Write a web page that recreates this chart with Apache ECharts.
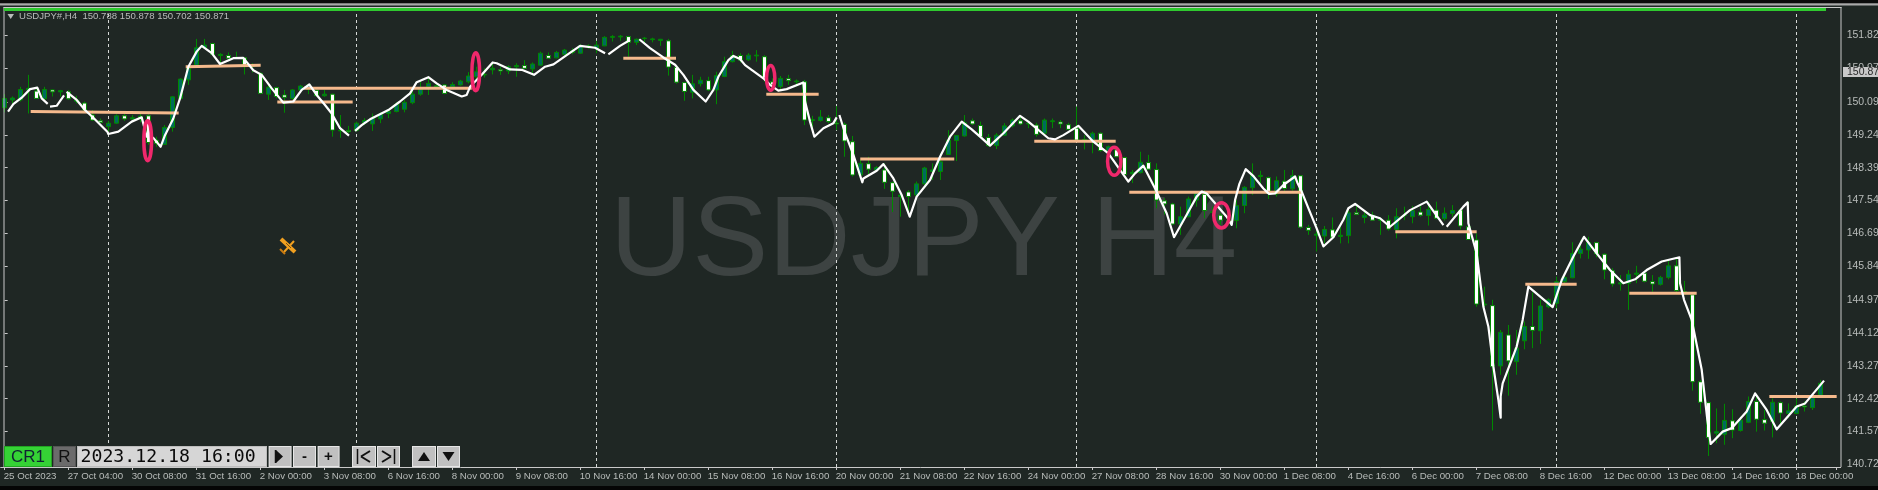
<!DOCTYPE html>
<html><head><meta charset="utf-8">
<style>html,body{margin:0;padding:0;background:#1f2724;overflow:hidden}#c{width:1878px;height:490px}</style>
<script src="https://cdn.jsdelivr.net/npm/echarts@6/dist/echarts.min.js"></script>
</head><body><div id="c"></div>
<script>
const tickLabels = ["25 Oct 2023","27 Oct 04:00","30 Oct 08:00","31 Oct 16:00","2 Nov 00:00","3 Nov 08:00","6 Nov 16:00","8 Nov 00:00","9 Nov 08:00","10 Nov 16:00","14 Nov 00:00","15 Nov 08:00","16 Nov 16:00","20 Nov 00:00","21 Nov 08:00","22 Nov 16:00","24 Nov 00:00","27 Nov 08:00","28 Nov 16:00","30 Nov 00:00","1 Dec 08:00","4 Dec 16:00","6 Dec 00:00","7 Dec 08:00","8 Dec 16:00","12 Dec 00:00","13 Dec 08:00","14 Dec 16:00","18 Dec 00:00"];
const priceTicks = [140.723,141.573,142.423,143.273,144.123,144.973,145.848,146.698,147.548,148.398,149.248,150.098,150.973,151.823];
const weekSeparators = [13,44,74,104,134,164,194,224];
const currentPrice = 150.871;
const headerText = "USDJPY#,H4  150.788 150.878 150.702 150.871";
// [open, close, low, high]
const candles = [
[149.95,150.19,149.83,150.30],[150.15,150.20,150.06,150.24],[150.15,150.42,150.11,150.49],[150.41,150.45,149.80,150.80],[150.38,150.19,150.18,150.49],[150.18,150.42,150.15,150.49],[150.41,150.36,150.24,150.42],[150.36,150.39,150.24,150.41],
[150.36,150.18,150.15,150.41],[150.12,150.15,150.06,150.26],[150.07,149.89,149.86,150.11],[149.76,149.63,149.61,149.89],[149.61,149.57,149.55,149.67],[149.46,149.55,149.33,149.61],[149.55,149.74,149.53,149.78],[149.74,149.66,149.61,149.80],
[149.66,149.69,149.61,149.76],[149.67,149.73,149.57,149.80],[149.74,149.05,148.99,149.78],[149.11,149.03,148.94,149.20],[149.00,149.44,148.99,149.50],[149.44,150.23,149.33,150.25],[150.19,150.69,150.15,150.71],[150.67,150.97,150.54,151.01],
[151.05,151.50,151.04,151.73],[151.50,151.57,151.49,151.73],[151.61,151.33,151.31,151.63],[151.30,151.33,151.10,151.36],[151.30,151.23,151.21,151.38],[151.23,151.24,151.21,151.40],[151.24,151.05,150.81,151.26],[151.01,151.05,150.86,151.10],
[150.84,150.32,150.30,150.86],[150.30,150.48,150.15,150.54],[150.47,150.24,150.19,150.49],[150.28,150.22,149.82,150.41],[150.19,150.41,150.15,150.43],[150.41,150.51,150.37,150.54],[150.43,150.54,150.30,150.55],[150.40,150.26,150.24,150.43],
[150.26,150.30,150.23,150.41],[150.30,149.37,149.20,150.31],[149.35,149.36,149.17,149.76],[149.36,149.33,149.29,149.48],[149.36,149.55,149.33,149.59],[149.56,149.62,149.50,149.68],[149.53,149.68,149.35,149.80],[149.66,149.78,149.55,149.83],
[149.80,149.85,149.68,149.92],[149.85,150.04,149.83,150.09],[149.91,150.09,149.83,150.15],[150.08,150.30,150.04,150.41],[150.30,150.43,150.26,150.65],[150.49,150.58,150.28,150.75],[150.49,150.52,150.43,150.58],[150.54,150.32,150.30,150.55],
[150.49,150.55,150.45,150.61],[150.54,150.64,150.52,150.67],[150.62,150.77,150.58,150.87],[150.75,150.88,150.67,151.01],[150.80,150.81,150.73,150.97],[150.93,150.97,150.81,151.10],[150.93,150.90,150.80,151.01],[150.90,151.01,150.82,151.05],
[151.01,151.04,150.75,151.10],[151.04,150.97,150.95,151.18],[150.95,151.08,150.84,151.12],[151.05,151.36,151.04,151.40],[151.30,151.23,151.21,151.38],[151.24,151.38,151.23,151.42],[151.33,151.44,151.30,151.47],[151.38,151.42,151.33,151.49],
[151.36,151.55,151.34,151.59],[151.52,151.55,151.47,151.59],[151.49,151.57,151.36,151.68],[151.55,151.77,151.54,151.80],[151.77,151.79,151.66,151.83],[151.78,151.80,151.68,151.83],[151.79,151.64,151.27,151.81],[151.64,151.72,151.57,151.74],
[151.74,151.75,151.61,151.78],[151.71,151.73,151.64,151.76],[151.69,151.72,151.55,151.73],[151.68,151.00,150.78,151.73],[150.99,150.61,150.57,151.04],[150.60,150.37,150.13,150.62],[150.35,150.57,150.19,150.80],[150.57,150.66,150.50,150.75],
[150.65,150.41,150.38,150.75],[150.41,150.78,150.04,150.88],[150.76,151.14,150.74,151.27],[151.14,151.30,151.12,151.42],[151.30,151.18,151.12,151.36],[151.19,151.31,151.16,151.36],[151.29,151.31,151.14,151.44],[151.27,150.71,150.62,151.31],
[150.62,150.54,150.50,150.71],[150.50,150.71,150.41,150.77],[150.70,150.65,150.54,150.80],[150.62,150.64,150.50,150.68],[150.62,149.63,149.50,150.67],[149.62,149.64,149.33,149.74],[149.62,149.71,149.59,149.89],[149.69,149.59,149.55,149.76],
[149.55,149.53,149.37,149.99],[149.52,149.09,148.68,149.57],[149.07,148.21,148.17,149.22],[148.21,148.51,148.18,148.60],[148.50,148.36,148.23,148.68],[148.34,148.40,148.30,148.44],[148.34,148.02,147.85,148.51],[148.01,147.79,147.25,148.04],
[147.65,147.69,147.13,147.80],[147.77,147.65,147.22,147.82],[147.69,147.98,147.56,148.04],[147.98,148.39,147.95,148.42],[148.30,148.34,148.08,148.51],[148.30,148.55,148.08,148.77],[148.74,149.11,148.73,149.37],[149.10,149.23,148.57,149.24],
[149.22,149.56,149.20,149.76],[149.61,149.53,149.50,149.67],[149.49,149.20,149.18,149.59],[149.18,148.97,148.94,149.27],[148.97,149.24,148.88,149.29],[149.24,149.48,149.22,149.55],[149.48,149.63,149.44,149.67],[149.61,149.53,149.50,149.74],
[149.53,149.55,149.42,149.61],[149.50,149.26,149.20,149.56],[149.29,149.63,149.27,149.67],[149.59,149.61,149.42,149.67],[149.58,149.53,149.42,149.63],[149.51,149.39,149.37,149.56],[149.42,149.11,149.10,149.98],[149.11,149.13,148.87,149.24],
[149.07,149.29,148.77,149.33],[149.29,148.84,148.81,149.31],[148.81,148.94,148.64,148.97],[148.86,148.68,148.67,148.90],[148.66,148.22,148.18,148.68],[148.24,148.28,148.00,148.34],[148.27,148.54,148.25,148.81],[148.53,148.36,148.34,148.73],
[148.35,147.56,147.35,148.51],[147.54,147.46,147.18,147.61],[147.46,146.94,146.92,147.49],[146.94,147.13,146.66,147.39],[147.13,147.59,147.11,147.65],[147.56,147.74,147.39,147.78],[147.71,147.29,147.09,147.82],[147.24,147.26,147.17,147.39],
[147.17,147.04,146.92,147.22],[146.96,147.04,146.92,147.13],[147.03,147.42,146.83,147.56],[147.42,147.89,147.22,147.92],[147.88,148.19,147.69,148.51],[148.17,148.20,147.95,148.32],[148.14,147.73,147.59,148.17],[147.72,148.06,147.65,148.17],
[148.05,147.86,147.80,148.34],[147.85,148.19,147.80,148.34],[148.19,146.86,146.82,148.21],[146.85,146.78,146.66,146.92],[146.65,146.68,146.23,146.92],[146.63,146.80,146.44,146.89],[146.79,146.60,146.59,147.11],[146.62,146.65,146.44,146.87],
[146.64,147.23,146.44,147.30],[147.23,147.19,147.17,147.43],[147.11,147.17,146.96,147.26],[147.17,147.04,147.03,147.26],[147.04,147.06,146.66,147.07],[147.04,146.81,146.77,147.17],[146.80,147.13,146.57,147.35],[147.16,147.17,147.04,147.39],
[147.13,147.29,146.96,147.41],[147.25,147.17,147.13,147.43],[147.16,147.32,146.90,147.52],[147.30,147.09,147.06,147.52],[147.08,147.22,147.03,147.37],[147.21,147.29,147.13,147.43],[147.30,146.89,146.80,147.35],[146.87,146.54,146.53,147.52],
[146.53,144.87,144.80,146.70],[144.85,144.87,144.80,145.32],[144.83,143.25,141.60,144.98],[143.27,144.14,143.04,144.20],[144.07,143.40,142.50,144.33],[143.38,143.73,143.04,144.20],[143.92,144.29,143.70,144.42],[144.29,144.19,143.73,145.17],
[144.18,144.82,143.84,144.98],[144.80,144.98,144.76,145.02],[144.89,145.45,144.76,145.58],[145.45,145.56,145.41,145.62],[145.55,146.18,145.54,146.47],[146.18,146.29,146.05,146.53],[146.27,146.46,146.04,146.61],[146.46,146.17,146.08,146.48],
[146.16,145.75,145.51,146.18],[145.73,145.39,145.32,145.80],[145.39,145.42,145.22,145.62],[145.41,145.64,144.72,145.75],[145.64,145.67,145.41,145.86],[145.67,145.46,145.43,145.71],[145.45,145.39,145.19,145.62],[145.38,145.56,145.35,145.60],
[145.56,145.86,145.51,145.99],[145.86,145.22,145.18,146.08],[145.19,145.13,145.11,145.47],[145.11,142.86,142.63,145.15],[142.86,142.33,142.03,142.91],[142.32,141.42,140.94,142.35],[141.53,141.57,141.27,142.17],[141.50,141.86,141.23,142.29],
[141.85,141.61,141.40,142.15],[141.60,141.87,141.57,141.96],[141.81,142.35,141.79,142.48],[142.35,141.89,141.57,142.48],[141.88,141.79,141.60,142.13],[141.83,142.33,141.42,142.43],[142.32,142.05,141.74,142.35],[142.04,142.11,141.92,142.30],
[142.04,142.23,142.02,142.43],[142.23,142.21,142.09,142.35],[142.19,142.47,142.13,142.52],[142.51,142.82,142.47,142.91]
];
// hand-drawn white line: [candle position, price]; null = pen lifted
const whiteLine = [
[.42,149.85],[1.08,150.04],[2.13,150.21],[3.17,150.43],[4.08,150.47],[4.63,150.19],[5.38,150.05],null,
[5.67,149.98],[6.5,150.00],[7.42,150.27],null,
[7.75,150.36],[9,150.15],[10.04,149.89],[11.08,149.69],[12.83,149.33],[12.96,149.27],[14.21,149.33],[15.88,149.59],[17.13,149.70],[17.75,149.20],[18.58,149.17],[19.5,148.94],[20.04,149.24],[21.08,149.67],[21.92,150.19],[22.96,151.01],[24,151.40],[24.63,151.55],[25.88,151.36],[26.92,151.08],[28.58,151.23],[29.83,151.24],[31.08,150.92],[32.13,150.80],[33.38,150.45],[34.83,150.08],[36.08,150.11],[37.13,150.41],[38.08,150.55],[39,150.28],[40.04,150.02],[40.88,149.80],[41.92,149.42],[43.04,149.23],null,
[43.8,149.35],[44.63,149.50],[45.67,149.65],[47.96,149.89],[49.42,150.11],[50.67,150.32],[51.5,150.61],[52.96,150.74],[54,150.58],[55.25,150.41],[57.13,150.24],[57.75,150.28],[58.17,150.49],[59.63,150.80],[61,151.12],[61.5,151.10],[63.17,150.94],[64.63,150.93],[66.17,150.80],[67.55,151.01],[68.6,151.07],[70.25,151.31],[71.92,151.55],[73.8,151.50],[75.05,151.36],null,
[75.46,151.33],[76.92,151.55],[78.17,151.70],null,
[79.33,151.72],[80.67,151.49],[82.33,151.25],[83.8,151.06],[84.84,150.80],[86.09,150.41],[87.63,150.11],[88.59,150.41],[89.21,150.75],[90.46,151.18],[91.09,151.29],[91.92,151.21],[92.55,151.05],[94.84,150.71],[95.67,150.54],[96.71,150.39],[97.75,150.43],[99.84,150.60],[100.05,150.11],[100.67,149.59],[101.21,149.20],[102.34,149.42],[103.59,149.55],[104,149.70],null,
[104.34,149.76],[105.05,149.29],[106.09,148.73],[107.21,148.02],[107.34,148.12],[109,148.32],[109.84,148.49],[111.09,148.12],[112.13,147.69],[113.13,147.13],[114,147.65],[115.67,148.08],[116.92,148.68],[118.17,149.20],[119.63,149.59],[120.88,149.39],[121.92,149.20],[123.17,148.97],[124.84,149.29],[126.92,149.74],[127.96,149.59],[130.46,149.16],[131.3,149.13],[132.34,149.24],[134.21,149.48],[136.09,149.07],[137.96,148.77],[139.42,148.34],[140.46,148.04],[141.3,148.25],[142.34,148.45],[143.8,147.86],[145.25,147.22],[146.17,146.60],[147.75,147.18],[149,147.65],[149.63,147.78],[150.25,147.73],[151.3,147.48],[152.75,147.13],[153.38,146.92],[153.8,147.56],[154.34,147.98],[155.13,148.36],[156.09,148.18],[157.34,147.86],[158.05,147.72],[158.8,147.73],[159.84,147.95],[161.3,148.17],[161.59,148.01],[162.13,147.78],[162.96,147.35],[164,146.83],[164.84,146.36],[166.09,146.60],[167.34,147.05],[167.96,147.35],[168.8,147.46],[170.67,147.17],[171.92,147.09],[173.17,146.87],[175.67,147.30],[177.75,147.52],[179.84,146.91],null,
[180.25,146.87],[182.34,147.39],[182.88,147.50],[182.96,146.96],[184,146.18],[184.84,144.80],[185.46,144.29],[186.09,143.25],[186.71,142.39],[187,141.93],[187,142.48],[187.25,142.82],[189,143.77],[189.75,144.46],[190.46,145.32],[193.5,144.79],[194.63,145.49],[196.09,146.10],[197.42,146.61],[199,146.18],[200.67,145.75],[202.34,145.41],[203.8,145.51],[205.25,145.75],[207.13,145.97],[209.34,146.08],[209.42,145.41],[209.92,144.98],[210.88,144.46],[211.3,144.03],[212.13,143.17],[212.84,141.87],[213.25,141.25],[214.75,141.57],[215.88,141.66],[217.75,142.09],[218.8,142.56],[220.25,142.13],[221.5,141.63],[224,142.22],[225.05,142.30],[227.42,142.89]
];
// orange levels: [from, price, to, price]
const levels = [
[3.25,149.85,21.75,149.81],[22.63,151.01,32,151.05],[34.08,150.10,43.5,150.10],[37.42,150.45,58.38,150.45],[77.33,151.23,83.92,151.23],[95.2,150.30,101.75,150.30],[106.95,148.62,118.7,148.62],[128.7,149.08,138.88,149.08],[140.58,147.76,162.13,147.76],[173.83,146.74,184,146.74],[190.08,145.38,196.5,145.38],[203.08,145.15,211.5,145.15],[220.58,142.48,229,142.48]
];
// pink rings: [centre, half width, price low, price high]
const rings = [
[17.88,.48,148.58,149.61],[58.88,.48,150.39,151.37],[95.75,.52,150.40,151.04],[138.7,.84,148.20,148.93],[152.1,.97,146.84,147.49]
];

const BG='#1f2724', AX='#c9c9c9', TXT='#b8bcba';
const SLOTS=230;
const categories=Array.from({length:SLOTS},(_,i)=>i%8===0&&tickLabels[i/8]?tickLabels[i/8]:'');
const levelData=[];levels.forEach(l=>{levelData.push([l[0],l[1]],[l[2],l[3]],null)});

function rect(x,y,w,h,fill,z){return {type:'rect',silent:true,z:z||10,shape:{x,y,width:w,height:h},style:{fill}}}
function label(x,y,text,font,fill,align,z){return {type:'text',silent:true,z:z||11,style:{x,y,text,font,fill,textAlign:align||'center',textVerticalAlign:'middle'}}}
function poly(points,fill){return {type:'polygon',silent:true,z:11,shape:{points},style:{fill}}}
function seg(x1,y1,x2,y2,stroke,w){return {type:'line',silent:true,z:12,shape:{x1,y1,x2,y2},style:{stroke,lineWidth:w||1}}}
function btn(x,w,fill){return [rect(x,446,w,21,'#e6e6e6'),rect(x+1,447,w-2,19,fill||'#c0c0c0')]}
const UI='"Liberation Sans"';
const chrome=[
 rect(0,0,1878,3,'#0c0c0c'),rect(0,3,1878,1,'#7d7d7d'),rect(0,4,1878,1.5,'#a9a9a9'),
 rect(0,486,1878,4,'#050505'),
 rect(3.5,7,1,460,AX),rect(3.5,7,1838,1,AX),rect(1840.5,7,1,460,AX),
 rect(4,8,1822,3,'#2fc92f'),
 {type:'text',silent:true,z:1,style:{x:610,y:301,text:'USDJPY H4',font:'114px "Liberation Sans"',fill:'#3d4342',textVerticalAlign:'bottom'}},
 poly([[7.5,14],[14,14],[10.7,19]],TXT),
 label(19,16,headerText,'9.6px '+UI,TXT,'left'),
 // cursor glyph
 seg(281,239,295,252,'#f0a020',4),seg(284,252,294,241,'#f0a020',2),seg(280,249,285,254,'#c87a10',2),seg(286,243,291,248,'#7a5010',1),
 // toolbar
 rect(4,446,48,21,'#22a322'),rect(5,447,46,19,'#35d235'),label(28,457,'CR1','17px '+UI,'#123'),
 rect(53,446,23,21,'#555'),rect(54,447,21,19,'#6b6b6b'),label(64.5,457,'R','17px '+UI,'#111'),
 rect(77,446,190,21,'#bdbdbd'),rect(78,447,188,19,'#d6d6d6'),label(80.5,457,'2023.12.18 16:00','18.2px "DejaVu Sans Mono"','#0a0a0a','left'),
 ...btn(268.6,23),poly([[276,450],[276,463],[283,456.5]],'#111'),seg(275.5,450,275.5,463,'#111',1.5),
 ...btn(293,23),label(304.5,457,'-','bold 15px '+UI,'#111'),
 ...btn(317.6,22),label(328.5,457,'+','bold 15px '+UI,'#111'),
 ...btn(352,24),seg(357.5,449,357.5,464,'#111',1.5),seg(370,451,361,456.5,'#111',2),seg(361,456.5,370,462,'#111',2),
 ...btn(377,23),seg(394.5,449,394.5,464,'#111',1.5),seg(382,451,391,456.5,'#111',2),seg(391,456.5,382,462,'#111',2),
 ...btn(412,24),poly([[418,461],[430,461],[424,452]],'#111'),
 ...btn(437,23),poly([[442.5,452],[454.5,452],[448.5,461]],'#111')
];

const chart=echarts.init(document.getElementById('c'),null,{renderer:'canvas'});
chart.setOption({
 animation:false,backgroundColor:BG,
 grid:{left:0.67,top:7,width:1840,height:460,containLabel:false,outerBoundsMode:'none'},
 xAxis:[
  {type:'category',data:categories,boundaryGap:true,
   axisLine:{show:true,lineStyle:{color:AX,width:1}},
   axisTick:{show:true,alignWithLabel:true,interval:7,length:3,lineStyle:{color:AX}},
   axisLabel:{show:true,interval:7,align:'left',margin:4,padding:[0,0,0,-1],color:TXT,fontSize:9.7,fontFamily:'Liberation Sans',hideOverlap:false,showMinLabel:true,showMaxLabel:true},
   splitLine:{show:false}},
  {type:'value',min:-0.5,max:SLOTS-0.5,show:false,splitLine:{show:false}}
 ],
 yAxis:[{type:'value',position:'right',min:140.655,max:152.555,scale:true,
   axisLine:{show:false},splitLine:{show:false},
   axisTick:{show:true,length:3,lineStyle:{color:AX},customValues:priceTicks},
   axisLabel:{show:true,margin:6,color:TXT,fontSize:10.5,fontFamily:'Liberation Sans',align:'left',customValues:priceTicks,formatter:v=>v.toFixed(3)}}],
 series:[
  {type:'candlestick',name:'USDJPY',xAxisIndex:0,yAxisIndex:0,data:candles,barWidth:5,z:3,silent:true,
   itemStyle:{color:'#006b5c',color0:'#ffffff',borderColor:'#008a00',borderColor0:'#008a00',borderWidth:1}},
  {type:'line',name:'levels',xAxisIndex:1,yAxisIndex:0,data:levelData,showSymbol:false,symbol:'none',silent:true,z:4,
   connectNulls:false,lineStyle:{color:'#f5b98c',width:3,cap:'butt'}},
  {type:'line',name:'path',xAxisIndex:1,yAxisIndex:0,data:whiteLine,showSymbol:false,symbol:'none',silent:true,z:5,
   connectNulls:false,lineStyle:{color:'#ffffff',width:2.2,join:'round'},
   markLine:{silent:true,symbol:'none',label:{show:false},z:1,animation:false,
    lineStyle:{color:'#d5d8d6',type:[3,3],width:1},
    data:weekSeparators.map(v=>({xAxis:v}))}},
  {type:'custom',name:'rings',xAxisIndex:1,yAxisIndex:0,data:rings,silent:true,z:6,
   encode:{x:0,y:[2,3]},
   renderItem(p,api){
    const c=api.value(0),hw=api.value(1);
    const a=api.coord([c-hw,api.value(3)]),b=api.coord([c+hw,api.value(2)]);
    return {type:'ellipse',shape:{cx:(a[0]+b[0])/2,cy:(a[1]+b[1])/2,rx:(b[0]-a[0])/2,ry:(b[1]-a[1])/2},
     style:{fill:'none',stroke:'#f0286c',lineWidth:3.5}};
   }}
 ],
 graphic:{elements:chrome}
});
const py=chart.convertToPixel({yAxisIndex:0},currentPrice);
chart.setOption({graphic:{elements:chrome.concat([
 rect(1843,py-5,35,10,'#c9c9c9',13),
 label(1847,py,currentPrice.toFixed(3),'10.5px '+UI,'#2a2a2a','left',14)
])}});
</script></body></html>
